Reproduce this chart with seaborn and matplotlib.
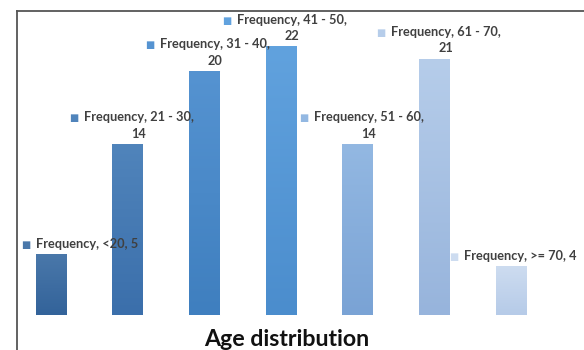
import numpy as np
import pandas as pd
import matplotlib
matplotlib.use("Agg")
import matplotlib.pyplot as plt
import matplotlib.colors as mcolors
import seaborn as sns

# данные
age_groups = ["<20", "21 - 30", "31 - 40", "41 - 50", "51 - 60", "61 - 70", ">= 70"]
frequency = [5, 14, 20, 22, 14, 21, 4]
top_colors = ["#4a78aa", "#5084bb", "#5593d1", "#61a2de", "#93b8e2", "#b6cdea", "#cddcf0"]
bottom_colors = ["#33639a", "#3b6fab", "#3f7fbf", "#4b8dcd", "#7aa3d5", "#97b4dc", "#b6cbe8"]
# сдвиг подписи относительно центра столбика (в пикселях)
label_dx = [36, 11, 11, 11, 11, 11, 9]

df = pd.DataFrame({"age": age_groups, "freq": frequency})

sns.set_style("white")
plt.rcParams["font.family"] = ["Lato", "DejaVu Sans"]

fig = plt.figure(figsize=(5.84, 3.5), dpi=100)
ax = fig.add_axes([17 / 584, 0, 1 - 17 / 584, 1 - 11 / 350])

sns.barplot(data=df, x="age", y="freq", hue="age", palette=top_colors,
            legend=False, width=0.40, ax=ax, saturation=1)

# градиент на столбиках
for bar, c_top, c_bot in zip(ax.patches, top_colors, bottom_colors):
    x0, y0 = bar.get_x(), bar.get_y()
    w, h = bar.get_width(), bar.get_height()
    cmap = mcolors.LinearSegmentedColormap.from_list("g", [c_bot, c_top])
    grad = np.linspace(0, 1, 100).reshape(-1, 1)
    im = ax.imshow(grad, extent=[x0, x0 + w, y0, y0 + h], origin="lower",
                   aspect="auto", cmap=cmap, zorder=bar.get_zorder() + 0.1)
    im.set_clip_path(bar)

ax.set_xlim(-0.443, 6.95)
ax.set_ylim(-2.87, 24.9)

# подписи
for i, (grp, val) in enumerate(zip(age_groups, frequency)):
    if val >= 10:
        label = f"Frequency, {grp},\n{val}"
    else:
        label = f"Frequency, {grp}, {val}"
    txt = ax.annotate(label, xy=(i, val), xytext=(label_dx[i] * 0.72, 3),
                      textcoords="offset points", ha="center", va="bottom",
                      fontsize=9.2, fontweight="bold", color="#404040",
                      linespacing=1.45, zorder=5)
    ax.annotate("■", xy=(0, 1), xycoords=txt, xytext=(-4, -1.5),
                textcoords="offset points", ha="right", va="top",
                fontsize=7, color=top_colors[i], family="DejaVu Sans", zorder=5)

ax.set_xlabel("")
ax.set_ylabel("")
ax.set_xticks([])
ax.set_yticks([])
for side in ["right", "bottom"]:
    ax.spines[side].set_visible(False)
for side in ["left", "top"]:
    ax.spines[side].set_visible(True)
    ax.spines[side].set_color("#555555")
    ax.spines[side].set_linewidth(1.3)

fig.text(287 / 584, 1 - 339 / 350, "Age distribution", ha="center", va="center",
         fontsize=16.7, fontweight="bold", color="#111111")

fig.savefig("out.png", dpi=100)
